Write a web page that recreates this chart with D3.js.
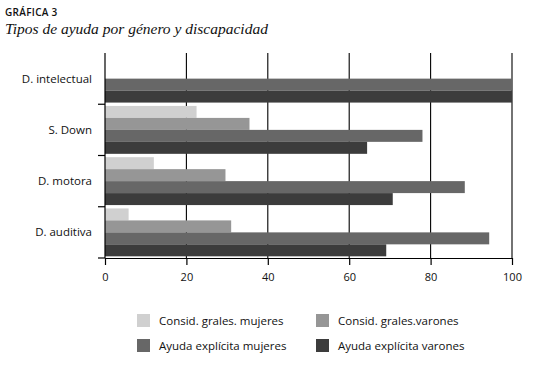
<!DOCTYPE html>
<meta charset="utf-8">
<style>
body { margin: 0; background: #fff; }
text { font-family: "Open Sans", "Noto Sans", sans-serif; fill: #111; }
.title { font-size: 10px; font-weight: 600; letter-spacing: 0.3px; }
.subtitle { font-family: "Liberation Serif", serif; font-style: italic; font-size: 15.5px; }
.tick text { font-size: 11px; }
.legend text { font-size: 11.5px; }
</style>
<svg width="538" height="365"></svg>
<script src="https://d3js.org/d3.v7.min.js"></script>
<script>
// categories top to bottom
const categories = ["D. intelectual", "S. Down", "D. motora", "D. auditiva"];
const seriesNames = ["Consid. grales. mujeres", "Consid. grales.varones", "Ayuda explícita mujeres", "Ayuda explícita varones"];
const colors = ["#d0d0d0", "#969696", "#676767", "#3c3c3c"];
const consGralesMujeres = [0, 22.5, 12, 5.8];
const consGralesVarones = [0, 35.5, 29.6, 31];
const ayudaExplMujeres = [100, 78, 88.4, 94.4];
const ayudaExplVarones = [100, 64.4, 70.7, 69.1];
const xTicks = [0, 20, 40, 60, 80, 100];

const series = [consGralesMujeres, consGralesVarones, ayudaExplMujeres, ayudaExplVarones];

const svg = d3.select("svg");
const plot = {left: 105, right: 512, top: 53, bottom: 258};

svg.append("text").attr("class", "title").attr("x", 5).attr("y", 16).text("GRÁFICA 3");
svg.append("text").attr("class", "subtitle").attr("x", 5).attr("y", 34).text("Tipos de ayuda por género y discapacidad");

const x = d3.scaleLinear().domain([0, 100]).range([plot.left, plot.right]);
const y = d3.scaleBand().domain(categories).range([plot.top, plot.bottom]);
const inner = d3.scaleBand().domain(d3.range(series.length))
  .range([0, y.bandwidth()]).paddingOuter(0.14);

// gridlines
svg.append("g").selectAll("line")
  .data(xTicks.slice(1))
  .join("line")
  .attr("x1", d => x(d)).attr("x2", d => x(d))
  .attr("y1", plot.top).attr("y2", plot.bottom)
  .attr("stroke", "#000").attr("stroke-width", 1.1);

// bars
const rows = [];
categories.forEach((c, i) => series.forEach((s, j) => rows.push({c, j, v: s[i]})));
svg.append("g").selectAll("rect")
  .data(rows.filter(d => d.v > 0))
  .join("rect")
  .attr("x", x(0))
  .attr("y", d => y(d.c) + inner(d.j))
  .attr("width", d => x(d.v) - x(0))
  .attr("height", inner.bandwidth())
  .attr("fill", d => colors[d.j]);

// x axis
const xAxis = svg.append("g")
  .attr("transform", `translate(0,${plot.bottom})`)
  .call(d3.axisBottom(x).tickValues(xTicks).tickSize(7).tickSizeOuter(0).tickPadding(8));
xAxis.select(".domain").attr("stroke-width", 1.2);
xAxis.selectAll(".tick line").attr("stroke-width", 1.2);

// y axis with ticks at category boundaries
const yAxis = svg.append("g").attr("transform", `translate(${plot.left},0)`);
yAxis.append("line").attr("y1", plot.top).attr("y2", plot.bottom)
  .attr("stroke", "#000").attr("stroke-width", 1.2);
yAxis.selectAll(".btick")
  .data(categories.slice(1).concat([null]))
  .join("line")
  .attr("x1", -7).attr("x2", 0)
  .attr("y1", d => d === null ? plot.bottom : y(d))
  .attr("y2", d => d === null ? plot.bottom : y(d))
  .attr("stroke", "#000").attr("stroke-width", 1.2);
yAxis.selectAll("text")
  .data(categories)
  .join("text")
  .attr("x", -13)
  .attr("y", d => y(d) + y.bandwidth() / 2)
  .attr("dy", "0.35em")
  .attr("text-anchor", "end")
  .style("font-size", "11.5px")
  .text(d => d);

// legend
const legend = svg.append("g").attr("class", "legend");
const lg = legend.selectAll("g")
  .data(seriesNames)
  .join("g")
  .attr("transform", (d, i) => `translate(${i % 2 ? 316 : 137},${i < 2 ? 314 : 339})`);
lg.append("rect").attr("width", 13).attr("height", 13).attr("fill", (d, i) => colors[i]);
lg.append("text").attr("x", 22).attr("y", 6.5).attr("dy", "0.35em").text(d => d);
</script>
